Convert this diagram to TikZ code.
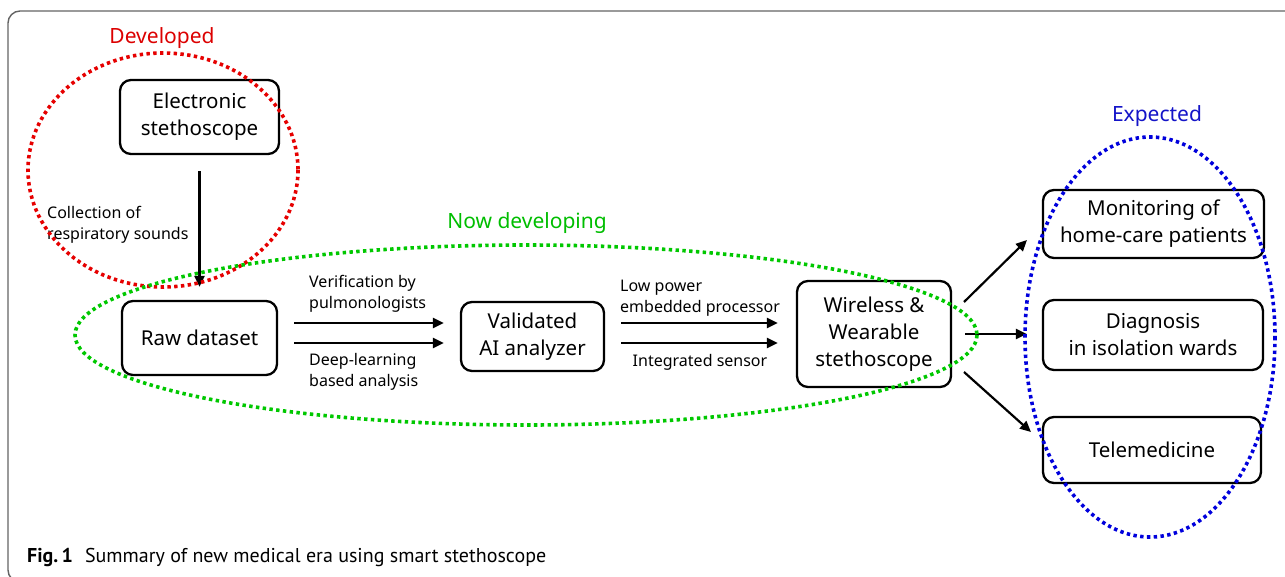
\documentclass[tikz,border=0pt]{standalone}
\usepackage{fontspec}
\setmainfont{Noto Sans}
\newfontfamily\capfont{PT Sans}
\usetikzlibrary{arrows.meta}
\definecolor{myred}{RGB}{230,0,0}
\definecolor{mygreen}{RGB}{0,200,0}
\definecolor{myblue}{RGB}{0,0,220}
\definecolor{txtred}{RGB}{220,0,0}
\definecolor{txtgreen}{RGB}{0,190,0}
\definecolor{txtblue}{RGB}{20,20,200}
\definecolor{framegray}{RGB}{100,100,100}
\tikzset{
  stagebox/.style={draw=black, line width=2.3pt, rounded corners=11pt, align=center,
    inner sep=0pt, font=\fontsize{20.5}{27}\selectfont},
  lbl/.style={align=left, inner sep=0pt, font=\fontsize{16}{20.5}\selectfont},
  heading/.style={inner sep=0pt, font=\fontsize{21}{25}\selectfont},
  arr/.style={line width=2.2pt, -{Triangle[length=11pt,width=10pt]}},
  dotline/.style={line width=3.6pt, dash pattern=on 3.4pt off 3.4pt},
}
\begin{document}
\begin{tikzpicture}[x=1pt,y=-1pt]
\useasboundingbox (0,0) rectangle (1285,576);
\clip (0,0) rectangle (1285,576);
\fill[white] (0,0) rectangle (1285,576);
% frame
\draw[framegray, line width=1.4pt, rounded corners=12pt] (8,11) rectangle (1320,582);

% boxes
\node[stagebox, minimum width=159pt, minimum height=74pt] (elec) at (199.5,117) {Electronic\\stethoscope};
\node[stagebox, minimum width=155pt, minimum height=74pt] (raw) at (199.5,338) {Raw dataset};
\node[stagebox, minimum width=143pt, minimum height=69pt] (val) at (532.5,336.5) {Validated\\AI analyzer};
\node[stagebox, minimum width=154pt, minimum height=106pt] (wl) at (874,334) {Wireless \&\\Wearable\\stethoscope};
\node[stagebox, minimum width=221pt, minimum height=68pt] (mon) at (1153.5,224) {Monitoring of\\home-care patients};
\node[stagebox, minimum width=220pt, minimum height=70pt] (diag) at (1153,335) {Diagnosis\\in isolation wards};
\node[stagebox, minimum width=218pt, minimum height=66pt] (tele) at (1152,450) {Telemedicine};

% headings
\node[heading, text=txtred] (hdev) at (162,38) {Developed};
\node[heading, text=txtgreen] (hnow) at (527,223) {Now developing};
\node[heading, text=txtblue] (hexp) at (1157,116) {Expected};

% labels
\node[lbl, anchor=west] (lcol) at (47,225) {Collection of\\respiratory sounds};
\node[lbl, anchor=west] (lver) at (309,294) {Verification by\\pulmonologists};
\node[lbl, anchor=west] (ldeep) at (309,372) {Deep-learning\\based analysis};
\node[lbl, anchor=west] (llow) at (620,298) {Low power\\embedded processor};
\node[lbl] (lint) at (700,362) {Integrated sensor};

% arrows
\draw[arr, shorten <=16pt, shorten >=13pt] (elec.south) -- (raw.north);
\draw[arr, shorten <=16pt, shorten >=16pt] (raw.east |- 0,323) -- (val.west |- 0,323);
\draw[arr, shorten <=16pt, shorten >=16pt] (raw.east |- 0,343) -- (val.west |- 0,343);
\draw[arr, shorten <=16pt, shorten >=18pt] (val.east |- 0,323) -- (wl.west |- 0,323);
\draw[arr, shorten <=16pt, shorten >=18pt] (val.east |- 0,343) -- (wl.west |- 0,343);
\coordinate (s1) at (964,302);
\coordinate (t1) at (1027,240);
\coordinate (s3) at (964,372);
\coordinate (t3) at (1031,432);
\draw[arr] (s1) -- (t1);
\draw[arr, shorten <=13pt, shorten >=15pt] (wl.east) -- (diag.west |- wl.east);
\draw[arr] (s3) -- (t3);

% dotted ellipses
\draw[myred, dotline] (163,170) ellipse [x radius=135, y radius=117];
\draw[mygreen, dotline] (526,335) ellipse [x radius=451, y radius=90];
\draw[myblue, dotline] (1150,337) ellipse [x radius=125, y radius=200];

% caption
\node[anchor=west, inner sep=0pt, font=\capfont\fontsize{20}{24}\selectfont] (cap) at (27,557)
  {\textbf{Fig.\,1}\hspace{0.6em}Summary of new medical era using smart stethoscope};
\end{tikzpicture}
\end{document}
